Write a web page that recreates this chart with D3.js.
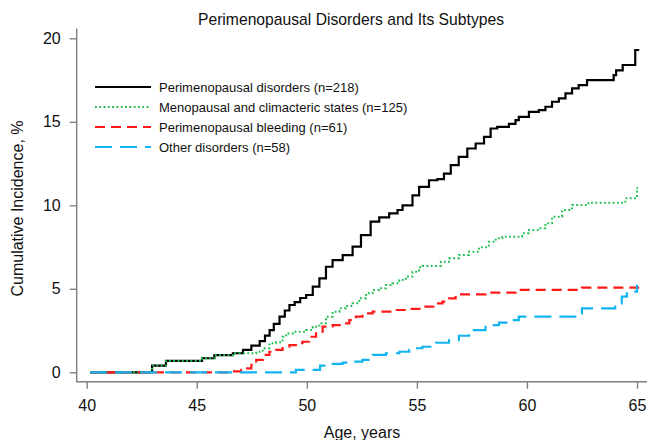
<!DOCTYPE html>
<html>
<head>
<meta charset="utf-8">
<script src="https://d3js.org/d3.v7.min.js"></script>
<style>
  body {margin: 0; background: white;}
  text {font-family: "Liberation Sans", Arial, sans-serif; fill: #111;}
</style>
</head>
<body>
<script>
// step curves: age (years) and cumulative incidence (%)
const allAges = [40.15, 42.97, 43.6, 45.24, 45.8, 46.64, 47.1, 47.48, 47.86, 48.1, 48.31, 48.5, 48.76, 49.0, 49.21, 49.45, 49.7, 49.97,
  50.27, 50.57, 50.87, 51.17, 51.63, 52.08, 52.46, 52.9, 53.29, 53.74, 54.12, 54.35, 54.8, 55.1, 55.55, 55.93, 56.23, 56.54, 56.9,
  57.29, 57.67, 58.05, 58.35, 58.65, 59.18, 59.48, 59.63, 60.09, 60.54, 60.84, 61.14, 61.45, 61.75, 62.05, 62.35, 62.73, 63.94,
  64.05, 64.35, 64.92, 65.1]
const allVals = [0, 0.4, 0.68, 0.84, 1.03, 1.14, 1.34, 1.6, 1.87, 2.2, 2.53, 2.9, 3.33, 3.7, 4.03, 4.2, 4.45, 4.63,
  5.13, 5.63, 6.32, 6.72, 7.02, 7.52, 8.22, 9.02, 9.28, 9.52, 9.72, 10.0, 10.6, 11.1, 11.5, 11.57, 11.9, 12.4, 12.9,
  13.4, 13.7, 14.1, 14.6, 14.7, 14.87, 15.1, 15.3, 15.6, 15.7, 15.9, 16.2, 16.4, 16.7, 17.0, 17.2, 17.5, 17.8,
  18.08, 18.4, 19.3, 19.3]

const menoAges = [40.15, 42.97, 43.6, 45.24, 45.8, 46.64, 47.7, 48.0, 48.3, 48.6, 48.9, 49.06, 49.36, 49.97, 50.27, 50.57, 50.87,
  51.17, 51.48, 51.78, 52.08, 52.38, 52.69, 52.99, 53.29, 53.59, 53.89, 54.2, 54.5, 54.8, 55.1, 55.25, 56.09, 56.46, 56.91,
  57.37, 57.82, 58.27, 58.58, 58.88, 59.78, 60.09, 60.54, 60.84, 61.14, 61.6, 62.05, 62.8, 64.47, 65.0, 65.05]
const menoVals = [0, 0.4, 0.68, 0.84, 1.03, 1.14, 1.23, 1.44, 1.74, 1.8, 2.13, 2.33, 2.43, 2.53, 2.73, 2.93, 3.33,
  3.63, 3.83, 3.97, 4.13, 4.43, 4.73, 4.93, 5.03, 5.23, 5.33, 5.53, 5.73, 6.02, 6.29, 6.37, 6.62, 6.83, 7.02,
  7.22, 7.49, 7.82, 8.02, 8.12, 8.32, 8.52, 8.62, 8.92, 9.32, 9.72, 10.02, 10.16, 10.42, 11.02, 11.02]

const bleedAges = [40.15, 46.6, 47.02, 47.2, 47.48, 47.7, 48.0, 48.3, 48.6, 48.9, 49.21, 49.5, 49.8, 50.1, 50.42, 50.72, 51.17,
  51.63, 51.93, 52.23, 52.53, 52.99, 53.89, 54.5, 55.25, 55.86, 56.16, 56.46, 56.76, 58.12, 59.48, 62.5, 65.1]
const bleedVals = [0, 0.06, 0.14, 0.24, 0.44, 0.74, 1.04, 1.23, 1.34, 1.53, 1.63, 1.74, 1.83, 2.13, 2.43, 2.73, 2.83,
  2.93, 3.13, 3.33, 3.53, 3.63, 3.73, 3.8, 3.93, 4.13, 4.23, 4.43, 4.67, 4.77, 4.93, 5.07, 5.07]

const otherAges = [40.15, 49.5, 50.6, 50.8, 51.63, 52.08, 52.53, 52.99, 53.59, 54.2, 54.65, 54.8, 55.25, 55.86, 56.46, 56.91,
  57.37, 58.12, 58.73, 59.18, 59.63, 62.2, 62.5, 64.01, 64.31, 64.54, 65.0, 65.05]
const otherVals = [0, 0.14, 0.4, 0.5, 0.58, 0.64, 0.74, 1.04, 1.14, 1.23, 1.34, 1.44, 1.53, 1.77, 1.93, 2.19,
  2.53, 2.83, 2.97, 3.13, 3.33, 3.53, 3.83, 4.13, 4.53, 4.83, 5.17, 5.17]

const seriesNames = ['Perimenopausal disorders (n=218)', 'Menopausal and climacteric states (n=125)',
  'Perimenopausal bleeding (n=61)', 'Other disorders (n=58)']
const xTicks = [40, 45, 50, 55, 60, 65]
const yTicks = [0, 5, 10, 15, 20]

const width = 647
const height = 440
const left = 76.7
const bottom = 381.7

const svg = d3.select('body').append('svg')
  .attr('width', width)
  .attr('height', height)

const x = d3.scaleLinear().domain([40, 65]).range([86.7, 637])
const y = d3.scaleLinear().domain([0, 20]).range([372.3, 38.3])

const styles = [
  {color: '#000000', dash: null, w: 2.2},
  {color: '#1fbf4f', dash: '1.8,2.5', w: 2},
  {color: '#ff1a1a', dash: '10,6', w: 2.2},
  {color: '#12b4f0', dash: '17,8', w: 2.2}
]
const series = [
  {ages: allAges, vals: allVals},
  {ages: menoAges, vals: menoVals},
  {ages: bleedAges, vals: bleedVals},
  {ages: otherAges, vals: otherVals}
]

// axes, drawn like an R "l" box
svg.append('path')
  .attr('d', `M${left},28.5V${bottom}H${width}`)
  .attr('fill', 'none')
  .attr('stroke', '#808080')
  .attr('stroke-width', 1.4)

const xAxis = svg.append('g')
  .attr('transform', `translate(0,${bottom})`)
  .call(d3.axisBottom(x).tickValues(xTicks).tickSize(7).tickPadding(11).tickSizeOuter(0))
const yAxis = svg.append('g')
  .attr('transform', `translate(${left},0)`)
  .call(d3.axisLeft(y).tickValues(yTicks).tickSize(7).tickPadding(9).tickSizeOuter(0))

for (const g of [xAxis, yAxis]) {
  g.select('.domain').remove()
  g.selectAll('line').attr('stroke', '#808080').attr('stroke-width', 1.4)
  g.selectAll('text')
    .style('font-family', '"Liberation Sans", Arial, sans-serif')
    .style('font-size', '16px')
    .attr('fill', '#111')
}

// curves
const line = d3.line()
  .x(d => x(d[0]))
  .y(d => y(d[1]))
  .curve(d3.curveStepAfter)

series.forEach((s, i) => {
  svg.append('path')
    .datum(s.ages.map((a, j) => [a, s.vals[j]]))
    .attr('d', line)
    .attr('fill', 'none')
    .attr('stroke', styles[i].color)
    .attr('stroke-width', styles[i].w)
    .attr('stroke-dasharray', styles[i].dash)
})

// legend
const legend = svg.append('g')
seriesNames.forEach((name, i) => {
  const ly = 87 + i * 20
  legend.append('line')
    .attr('x1', 95).attr('x2', 151)
    .attr('y1', ly).attr('y2', ly)
    .attr('stroke', styles[i].color)
    .attr('stroke-width', styles[i].w)
    .attr('stroke-dasharray', styles[i].dash)
  legend.append('text')
    .attr('x', 159).attr('y', ly)
    .attr('dy', '0.36em')
    .style('font-size', '13px')
    .text(name)
})

// titles
svg.append('text')
  .attr('x', 351).attr('y', 25)
  .attr('text-anchor', 'middle')
  .style('font-size', '15.7px')
  .text('Perimenopausal Disorders and Its Subtypes')

svg.append('text')
  .attr('x', 362).attr('y', 438)
  .attr('text-anchor', 'middle')
  .style('font-size', '16px')
  .text('Age, years')

svg.append('text')
  .attr('transform', 'translate(23,208.5) rotate(-90)')
  .attr('text-anchor', 'middle')
  .style('font-size', '16px')
  .text('Cumulative Incidence, %')
</script>
</body>
</html>
